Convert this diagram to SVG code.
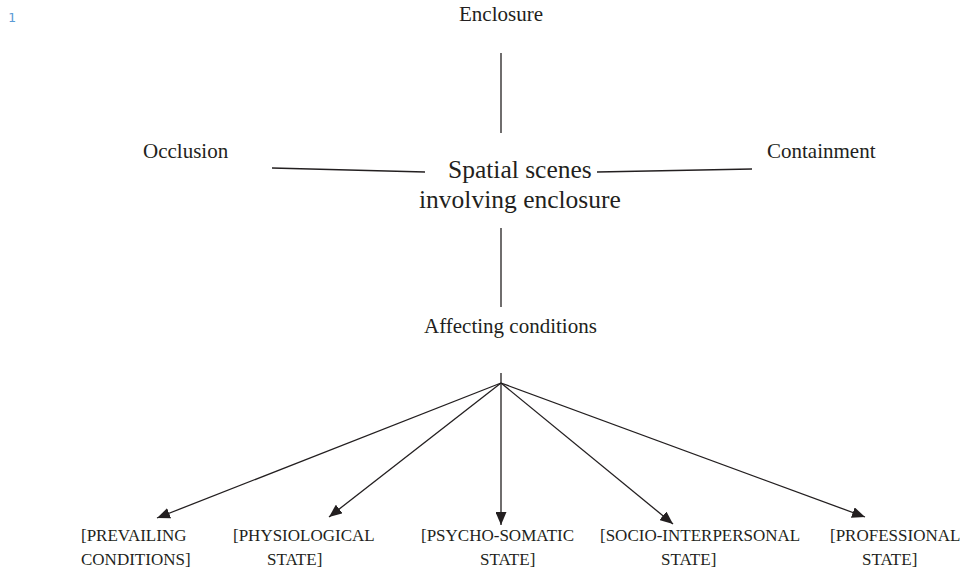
<svg xmlns="http://www.w3.org/2000/svg" width="963" height="570" viewBox="0 0 963 570">
  <defs>
    <marker id="arrow" viewBox="0 0 13 11" refX="13" refY="5.5" markerWidth="13" markerHeight="11" markerUnits="userSpaceOnUse" orient="auto">
      <path d="M0,0 L13,5.5 L0,11 z" fill="#231f20"/>
    </marker>
    <style>
      .t { font-family: "Liberation Serif", "Times New Roman", serif; fill: #231f20; }
      .m { font-size: 21px; }
      .c { font-size: 25.5px; }
      .s { font-size: 17px; }
      .ln { stroke: #231f20; stroke-width: 1.3; fill: none; }
      .ar { stroke: #231f20; stroke-width: 1.3; fill: none; marker-end: url(#arrow); }
    </style>
  </defs>
  <rect width="963" height="570" fill="#ffffff"/>
  <text x="8" y="22" font-family="'DejaVu Sans Mono', monospace" font-size="13" fill="#5b9bd5">1</text>

  <!-- connectors: spokes round the central label and the fan of arrows below -->
  <g id="connectors">
    <line class="ln" x1="501" y1="53" x2="501" y2="133"/>
    <line class="ln" x1="272" y1="168" x2="425" y2="172"/>
    <line class="ln" x1="597" y1="172" x2="752" y2="169"/>
    <line class="ln" x1="501" y1="228" x2="501" y2="307"/>
    <line class="ln" x1="501" y1="373" x2="501" y2="383"/>
    <line class="ar" x1="501" y1="383" x2="157" y2="518"/>
    <line class="ar" x1="501" y1="383" x2="329" y2="517"/>
    <line class="ar" x1="501" y1="383" x2="501" y2="525"/>
    <line class="ar" x1="501" y1="383" x2="673" y2="524"/>
    <line class="ar" x1="501" y1="383" x2="865" y2="517"/>
  </g>

  <g id="enclosure"><text class="t m" x="459" y="21">Enclosure</text></g>
  <g id="occlusion"><text class="t m" x="143" y="158">Occlusion</text></g>
  <g id="containment"><text class="t m" x="767" y="158">Containment</text></g>
  <g id="spatial-scenes">
    <text class="t c" x="448" y="178">Spatial scenes</text>
    <text class="t c" x="419" y="208">involving enclosure</text>
  </g>
  <g id="affecting-conditions"><text class="t m" x="424" y="333">Affecting conditions</text></g>

  <g id="prevailing">
    <text class="t s" x="81" y="541">[PREVAILING</text>
    <text class="t s" x="81" y="565">CONDITIONS]</text>
  </g>
  <g id="physiological">
    <text class="t s" x="233" y="541">[PHYSIOLOGICAL</text>
    <text class="t s" x="267" y="565">STATE]</text>
  </g>
  <g id="psycho-somatic">
    <text class="t s" x="421" y="541">[PSYCHO-SOMATIC</text>
    <text class="t s" x="480" y="565">STATE]</text>
  </g>
  <g id="socio-interpersonal">
    <text class="t s" x="600" y="541">[SOCIO-INTERPERSONAL</text>
    <text class="t s" x="661" y="565">STATE]</text>
  </g>
  <g id="professional">
    <text class="t s" x="830" y="541">[PROFESSIONAL</text>
    <text class="t s" x="862" y="565">STATE]</text>
  </g>
</svg>
